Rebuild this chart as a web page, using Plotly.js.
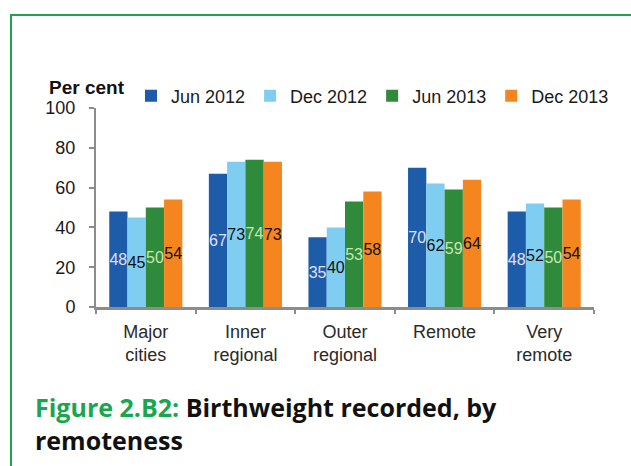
<!DOCTYPE html>
<html>
<head>
<meta charset="utf-8">
<script src="https://cdn.plot.ly/plotly-3.0.1.min.js"></script>
<style>
  html, body { margin: 0; padding: 0; background: #ffffff; }
  #wrap { position: relative; width: 631px; height: 466px; overflow: hidden; }
  #frame { position: absolute; left: 10px; top: 14px; width: 640px; height: 470px;
           border-top: 2px solid #1ba34e; border-left: 2px solid #1ba34e; }
  #chart { position: absolute; left: 0; top: 0; width: 631px; height: 466px; }
</style>
</head>
<body>
<div id="wrap">
  <div id="frame"></div>
  <div id="chart"></div>
</div>
<script>
// Data
const categories = ["Major<br>cities", "Inner<br>regional", "Outer<br>regional", "Remote", "Very<br>remote"];
const seriesNames = ["Jun 2012", "Dec 2012", "Jun 2013", "Dec 2013"];
const jun2012 = [48, 67, 35, 70, 48];
const dec2012 = [45, 73, 40, 62, 52];
const jun2013 = [50, 74, 53, 59, 50];
const dec2013 = [54, 73, 58, 64, 54];
const yTicks = [0, 20, 40, 60, 80, 100];

const seriesValues = [jun2012, dec2012, jun2013, dec2013];
const barColors = ["#1d5ca8", "#7fcdf1", "#2f8a3b", "#f5851f"];
const labelColors = ["#e2e0f6", "#111111", "#c6e8b0", "#111111"];

const traces = seriesValues.map((vals, i) => ({
  type: "bar",
  name: seriesNames[i],
  x: categories,
  y: vals,
  text: vals.map(String),
  textposition: "inside",
  insidetextanchor: "middle",
  textangle: 0,
  constraintext: "none",
  cliponaxis: false,
  textfont: { family: "Liberation Sans, Arial, sans-serif", size: 16, color: labelColors[i] },
  marker: { color: barColors[i], line: { width: 0 } },
  hoverinfo: "skip"
}));

const L = 96, R = 37, T = 108, B = 159;
const plotW = 631 - L - R, plotH = 466 - T - B;
const px = (x) => (x - L) / plotW;          // pixel -> paper x
const py = (y) => (466 - B - y) / plotH;    // pixel -> paper y

const layout = {
  width: 631, height: 466,
  margin: { l: L, r: R, t: T, b: B, pad: 0 },
  paper_bgcolor: "rgba(0,0,0,0)",
  plot_bgcolor: "rgba(0,0,0,0)",
  font: { family: "Liberation Sans, Arial, sans-serif", color: "#222222" },
  barmode: "group",
  bargap: 0.266,
  bargroupgap: 0,
  showlegend: true,
  legend: {
    orientation: "h",
    x: px(131), xanchor: "left",
    y: py(96), yanchor: "middle",
    font: { family: "Liberation Sans, Arial, sans-serif", size: 18, color: "#1a1a1a" },
    bgcolor: "rgba(0,0,0,0)",
    itemwidth: 30,
    tracegroupgap: 0
  },
  xaxis: {
    type: "category",
    showgrid: false,
    zeroline: false,
    showline: true, linecolor: "#8c8c8c", linewidth: 3,
    ticks: "outside", tickson: "boundaries", ticklen: 4, tickcolor: "#8c8c8c", tickwidth: 2,
    tickfont: { family: "Liberation Sans, Arial, sans-serif", size: 18, color: "#2a2a2a" },
    ticklabelstandoff: 6,
    fixedrange: true
  },
  yaxis: {
    range: [0, 100],
    tickvals: yTicks,
    showgrid: false,
    zeroline: false,
    showline: true, linecolor: "#8c8c8c", linewidth: 2,
    ticks: "outside", ticklen: 5, tickcolor: "#8c8c8c", tickwidth: 2,
    tickfont: { family: "Liberation Sans, Arial, sans-serif", size: 18, color: "#1a1a1a" },
    ticklabelstandoff: 10,
    fixedrange: true
  },
  annotations: [
    {
      text: "<b>Per cent</b>",
      xref: "paper", yref: "paper",
      x: px(47), xanchor: "left",
      y: py(87), yanchor: "middle",
      showarrow: false,
      font: { family: "Liberation Sans, Arial, sans-serif", size: 19, color: "#111111" }
    },
    {
      text: "<b><span style='color:#19a651'>Figure 2.B2:</span> Birthweight recorded, by<br>remoteness</b>",
      xref: "paper", yref: "paper",
      x: px(33), xanchor: "left",
      y: py(388), yanchor: "top",
      align: "left",
      showarrow: false,
      font: { family: "Open Sans, Noto Sans, sans-serif", size: 25, color: "#111111" }
    }
  ]
};

Plotly.newPlot("chart", traces, layout, { displayModeBar: false, staticPlot: true });
</script>
</body>
</html>
